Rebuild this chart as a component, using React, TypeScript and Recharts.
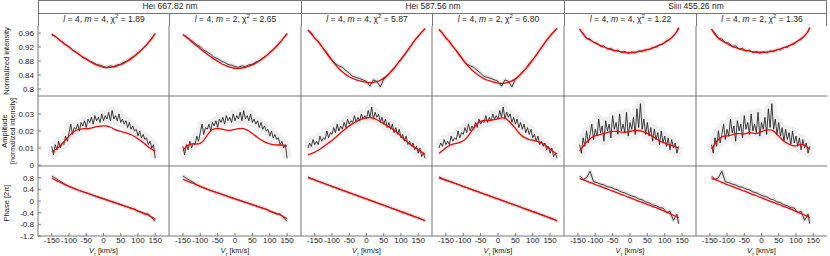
import { Line, LineChart, XAxis, YAxis } from "recharts"

// velocity grids (km/s)
const V_HE667 = [-150, -140, -130, -120, -110, -100, -90, -80, -70, -60, -50, -40, -30, -20, -10, 0, 10, 20, 30, 40, 50, 60, 70, 80, 90, 100, 110, 120, 130, 140, 150]
const V_HE587 = [-170, -160, -150, -140, -130, -120, -110, -100, -90, -80, -70, -60, -50, -40, -30, -20, -10, 0, 10, 20, 30, 40, 50, 60, 70, 80, 90, 100, 110, 120, 130, 140, 150, 160, 170]
const V_SI455 = [-145, -135, -125, -115, -105, -95, -85, -75, -65, -55, -45, -35, -25, -15, -5, 5, 15, 25, 35, 45, 55, 65, 75, 85, 95, 105, 115, 125, 135, 140]

const F_HE667 = [-150, -145, -140, -135, -130, -125, -120, -115, -110, -105, -100, -95, -90, -85, -80, -75, -70, -65, -60, -55, -50, -45, -40, -35, -30, -25, -20, -15, -10, -5, 0, 5, 10, 15, 20, 25, 30, 35, 40, 45, 50, 55, 60, 65, 70, 75, 80, 85, 90, 95, 100, 105, 110, 115, 120, 125, 130, 135, 140, 145, 150]
const F_HE587 = [-170, -165, -160, -155, -150, -145, -140, -135, -130, -125, -120, -115, -110, -105, -100, -95, -90, -85, -80, -75, -70, -65, -60, -55, -50, -45, -40, -35, -30, -25, -20, -15, -10, -5, 0, 5, 10, 15, 20, 25, 30, 35, 40, 45, 50, 55, 60, 65, 70, 75, 80, 85, 90, 95, 100, 105, 110, 115, 120, 125, 130, 135, 140, 145, 150, 155, 160, 165, 170]
const F_SI455 = [-145, -140, -135, -130, -125, -120, -115, -110, -105, -100, -95, -90, -85, -80, -75, -70, -65, -60, -55, -50, -45, -40, -35, -30, -25, -20, -15, -10, -5, 0, 5, 10, 15, 20, 25, 30, 35, 40, 45, 50, 55, 60, 65, 70, 75, 80, 85, 90, 95, 100, 105, 110, 115, 120, 125, 130, 135, 140]

// normalized intensity
const HE667_INT_OBS = [0.954, 0.951, 0.941, 0.935, 0.926, 0.921, 0.911, 0.906, 0.899, 0.89, 0.887, 0.88, 0.876, 0.87, 0.868, 0.864, 0.862, 0.866, 0.864, 0.869, 0.871, 0.877, 0.881, 0.889, 0.895, 0.904, 0.912, 0.921, 0.933, 0.945, 0.959]
const HE667_INT_M4 = [0.957, 0.95, 0.942, 0.934, 0.927, 0.92, 0.912, 0.905, 0.898, 0.891, 0.885, 0.879, 0.873, 0.869, 0.865, 0.862, 0.861, 0.862, 0.863, 0.866, 0.87, 0.874, 0.88, 0.886, 0.894, 0.902, 0.911, 0.921, 0.932, 0.944, 0.958]
const HE667_INT_M2 = [0.956, 0.948, 0.94, 0.931, 0.923, 0.915, 0.907, 0.899, 0.892, 0.885, 0.879, 0.873, 0.868, 0.864, 0.861, 0.859, 0.859, 0.86, 0.862, 0.865, 0.869, 0.874, 0.88, 0.887, 0.895, 0.904, 0.913, 0.923, 0.934, 0.946, 0.958]
const HE587_INT_OBS = [0.968, 0.961, 0.944, 0.937, 0.921, 0.911, 0.897, 0.883, 0.872, 0.866, 0.862, 0.853, 0.845, 0.836, 0.833, 0.83, 0.826, 0.822, 0.808, 0.826, 0.822, 0.806, 0.828, 0.836, 0.848, 0.858, 0.873, 0.884, 0.896, 0.912, 0.925, 0.94, 0.95, 0.963, 0.973]
const HE587_INT_M4 = [0.969, 0.957, 0.946, 0.935, 0.922, 0.908, 0.894, 0.881, 0.869, 0.858, 0.849, 0.841, 0.835, 0.83, 0.826, 0.823, 0.821, 0.819, 0.818, 0.819, 0.821, 0.825, 0.831, 0.839, 0.849, 0.86, 0.872, 0.885, 0.898, 0.911, 0.925, 0.939, 0.951, 0.962, 0.972]
const HE587_INT_M2 = [0.971, 0.959, 0.947, 0.935, 0.922, 0.909, 0.895, 0.882, 0.87, 0.859, 0.85, 0.842, 0.835, 0.829, 0.825, 0.822, 0.819, 0.817, 0.816, 0.817, 0.819, 0.823, 0.829, 0.837, 0.847, 0.858, 0.87, 0.883, 0.897, 0.911, 0.925, 0.939, 0.952, 0.963, 0.973]
const SI455_INT_OBS = [0.97, 0.96, 0.944, 0.943, 0.933, 0.931, 0.922, 0.923, 0.914, 0.916, 0.909, 0.911, 0.904, 0.907, 0.902, 0.906, 0.903, 0.909, 0.907, 0.913, 0.912, 0.919, 0.919, 0.927, 0.928, 0.938, 0.941, 0.953, 0.963, 0.976]
const SI455_INT_M4 = [0.972, 0.957, 0.946, 0.94, 0.934, 0.929, 0.924, 0.92, 0.916, 0.913, 0.91, 0.908, 0.906, 0.905, 0.904, 0.904, 0.905, 0.907, 0.909, 0.911, 0.914, 0.917, 0.921, 0.925, 0.93, 0.936, 0.943, 0.951, 0.965, 0.974]
const SI455_INT_M2 = [0.971, 0.956, 0.945, 0.938, 0.932, 0.927, 0.922, 0.918, 0.915, 0.912, 0.91, 0.908, 0.906, 0.905, 0.905, 0.905, 0.906, 0.907, 0.909, 0.912, 0.915, 0.918, 0.922, 0.926, 0.931, 0.937, 0.944, 0.952, 0.965, 0.975]

// amplitude
const HE667_AMP_OBS = [0.011, 0.006, 0.012, 0.009, 0.014, 0.01, 0.013, 0.012, 0.017, 0.014, 0.019, 0.024, 0.018, 0.022, 0.021, 0.024, 0.02, 0.025, 0.023, 0.026, 0.022, 0.027, 0.025, 0.028, 0.024, 0.029, 0.026, 0.028, 0.025, 0.03, 0.026, 0.029, 0.027, 0.031, 0.026, 0.032, 0.027, 0.029, 0.026, 0.03, 0.025, 0.027, 0.024, 0.026, 0.022, 0.025, 0.021, 0.023, 0.02, 0.021, 0.017, 0.02, 0.016, 0.018, 0.015, 0.016, 0.012, 0.014, 0.01, 0.012, 0.004]
const HE667_AMP_M4 = [0.0078, 0.009, 0.0105, 0.0125, 0.0148, 0.017, 0.019, 0.0203, 0.021, 0.0213, 0.0214, 0.0216, 0.022, 0.0225, 0.0229, 0.023, 0.0228, 0.0222, 0.0212, 0.0203, 0.0198, 0.0192, 0.0186, 0.0178, 0.0168, 0.0155, 0.014, 0.0124, 0.0108, 0.0094, 0.0082]
const HE667_AMP_M2 = [0.0085, 0.011, 0.0122, 0.0125, 0.0124, 0.0128, 0.0145, 0.0175, 0.02, 0.0212, 0.0214, 0.0212, 0.0207, 0.0204, 0.0205, 0.021, 0.0214, 0.0215, 0.021, 0.02, 0.0185, 0.017, 0.0155, 0.0142, 0.0132, 0.0125, 0.012, 0.0118, 0.0118, 0.0117, 0.0112]
const HE587_AMP_OBS = [0.01, 0.013, 0.011, 0.015, 0.012, 0.014, 0.012, 0.017, 0.014, 0.016, 0.015, 0.02, 0.016, 0.019, 0.018, 0.022, 0.019, 0.024, 0.02, 0.023, 0.021, 0.025, 0.022, 0.027, 0.024, 0.026, 0.025, 0.029, 0.025, 0.028, 0.026, 0.03, 0.027, 0.029, 0.027, 0.032, 0.028, 0.034, 0.027, 0.031, 0.028, 0.03, 0.025, 0.028, 0.024, 0.027, 0.022, 0.025, 0.021, 0.024, 0.019, 0.022, 0.018, 0.021, 0.016, 0.018, 0.014, 0.017, 0.012, 0.014, 0.011, 0.013, 0.009, 0.011, 0.007, 0.01, 0.005, 0.007, 0.004]
const HE587_AMP_M4 = [0.0062, 0.0068, 0.0076, 0.0087, 0.01, 0.0115, 0.013, 0.0145, 0.0162, 0.018, 0.0198, 0.0215, 0.023, 0.0243, 0.0254, 0.0264, 0.0272, 0.0277, 0.0278, 0.0274, 0.0266, 0.0255, 0.0243, 0.023, 0.0218, 0.0205, 0.019, 0.017, 0.015, 0.0133, 0.0118, 0.0103, 0.009, 0.0076, 0.0064]
const HE587_AMP_M2 = [0.0068, 0.0085, 0.0102, 0.0115, 0.0123, 0.0128, 0.0133, 0.0143, 0.016, 0.0188, 0.0218, 0.0243, 0.0257, 0.0262, 0.0262, 0.0263, 0.0266, 0.0271, 0.0277, 0.0275, 0.026, 0.0238, 0.0215, 0.019, 0.017, 0.0158, 0.015, 0.0146, 0.0141, 0.0135, 0.0125, 0.011, 0.0095, 0.0078, 0.0066]
const SI455_AMP_OBS = [0.012, 0.007, 0.016, 0.011, 0.02, 0.013, 0.018, 0.024, 0.015, 0.021, 0.017, 0.027, 0.019, 0.023, 0.014, 0.026, 0.02, 0.024, 0.016, 0.029, 0.021, 0.025, 0.018, 0.03, 0.02, 0.024, 0.019, 0.031, 0.017, 0.025, 0.021, 0.028, 0.018, 0.033, 0.022, 0.036, 0.021, 0.027, 0.018, 0.025, 0.017, 0.022, 0.014, 0.021, 0.015, 0.019, 0.012, 0.02, 0.013, 0.017, 0.011, 0.016, 0.009, 0.015, 0.01, 0.013, 0.007, 0.011]
const SI455_AMP_M4 = [0.0085, 0.011, 0.0135, 0.0155, 0.0168, 0.0175, 0.018, 0.0186, 0.0192, 0.0196, 0.0198, 0.0197, 0.0194, 0.0192, 0.0195, 0.02, 0.0203, 0.0203, 0.0198, 0.019, 0.018, 0.0168, 0.0155, 0.0143, 0.0133, 0.0125, 0.0118, 0.0112, 0.0104, 0.01]
const SI455_AMP_M2 = [0.0095, 0.0125, 0.015, 0.0165, 0.017, 0.0172, 0.0178, 0.0185, 0.0185, 0.0183, 0.0185, 0.019, 0.0188, 0.0185, 0.0192, 0.02, 0.0207, 0.0206, 0.0199, 0.018, 0.016, 0.014, 0.0128, 0.0118, 0.0113, 0.0116, 0.0122, 0.0118, 0.01, 0.0092]

// phase [2pi]
const HE667_PH_OBS = [0.86, 0.78, 0.71, 0.64, 0.56, 0.5, 0.45, 0.4, 0.36, 0.32, 0.28, 0.24, 0.2, 0.16, 0.12, 0.08, 0.04, 0, -0.04, -0.08, -0.12, -0.16, -0.2, -0.24, -0.28, -0.36, -0.4, -0.45, -0.44, -0.58, -0.7]
const HE667_PH_M4 = [0.78, 0.72, 0.66, 0.61, 0.55, 0.5, 0.45, 0.41, 0.36, 0.32, 0.28, 0.24, 0.19, 0.15, 0.11, 0.07, 0.03, -0.01, -0.05, -0.09, -0.13, -0.17, -0.21, -0.25, -0.29, -0.34, -0.38, -0.43, -0.49, -0.55, -0.62]
const HE667_PH_M2 = [0.74, 0.7, 0.65, 0.6, 0.55, 0.5, 0.45, 0.41, 0.36, 0.32, 0.28, 0.24, 0.19, 0.15, 0.11, 0.07, 0.03, -0.01, -0.05, -0.09, -0.13, -0.17, -0.21, -0.25, -0.29, -0.34, -0.38, -0.43, -0.48, -0.54, -0.6]
const HE587_PH_OBS = [0.83, 0.77, 0.73, 0.68, 0.64, 0.59, 0.55, 0.5, 0.46, 0.42, 0.37, 0.33, 0.29, 0.24, 0.2, 0.16, 0.11, 0.07, 0.03, -0.01, -0.06, -0.1, -0.14, -0.18, -0.23, -0.27, -0.31, -0.36, -0.39, -0.45, -0.48, -0.54, -0.57, -0.62, -0.68]
const HE587_PH_M4 = [0.8, 0.76, 0.72, 0.67, 0.63, 0.59, 0.54, 0.5, 0.46, 0.41, 0.37, 0.33, 0.28, 0.24, 0.2, 0.15, 0.11, 0.07, 0.02, -0.02, -0.06, -0.11, -0.15, -0.19, -0.24, -0.28, -0.32, -0.37, -0.41, -0.45, -0.5, -0.54, -0.58, -0.63, -0.67]
const HE587_PH_M2 = [0.79, 0.75, 0.71, 0.67, 0.63, 0.59, 0.54, 0.5, 0.46, 0.41, 0.37, 0.33, 0.28, 0.24, 0.2, 0.15, 0.11, 0.07, 0.02, -0.02, -0.06, -0.11, -0.15, -0.19, -0.24, -0.28, -0.32, -0.37, -0.41, -0.45, -0.5, -0.54, -0.59, -0.63, -0.68]
const SI455_PH_OBS = [0.86, 0.74, 0.8, 1.02, 0.66, 0.63, 0.58, 0.55, 0.49, 0.47, 0.41, 0.38, 0.31, 0.28, 0.22, 0.17, 0.14, 0.07, 0.04, -0.03, -0.06, -0.13, -0.16, -0.23, -0.24, -0.4, -0.35, -0.66, -0.45, -0.78]
const SI455_PH_M4 = [0.77, 0.73, 0.68, 0.63, 0.59, 0.54, 0.5, 0.45, 0.41, 0.36, 0.32, 0.27, 0.22, 0.18, 0.13, 0.09, 0.04, -0.01, -0.05, -0.1, -0.14, -0.19, -0.23, -0.28, -0.33, -0.38, -0.43, -0.49, -0.55, -0.58]
const SI455_PH_M2 = [0.78, 0.74, 0.69, 0.64, 0.59, 0.54, 0.5, 0.45, 0.41, 0.36, 0.32, 0.27, 0.22, 0.18, 0.13, 0.09, 0.04, -0.01, -0.05, -0.1, -0.14, -0.19, -0.23, -0.28, -0.33, -0.38, -0.43, -0.48, -0.54, -0.57]

const X_TICKS = [-150, -100, -50, 0, 50, 100, 150]
const INT_TICKS = [0.8, 0.84, 0.88, 0.92, 0.96]
const AMP_TICKS = [0, 0.01, 0.02, 0.03]
const PH_TICKS = [-1.2, -0.8, -0.4, 0, 0.4, 0.8]

const CHI2 = ["1.89", "2.65", "5.87", "6.80", "1.22", "1.36"]
const M_VALUES = [4, 2, 4, 2, 4, 2]

const FONT = '"Liberation Sans", Arial, Helvetica, sans-serif'
const PLOT_X0 = 37.5
const COL_W = 131.6
const ROW_H = 70
const Y_AXIS_W = 37
const X_AXIS_H = 20
const FRAME = "#777"

type Pt = { v: number; y: number }
const zip = (xs: number[], ys: number[]): Pt[] => xs.map((v, i) => ({ v, y: ys[i] }))

const LINES = [
  {
    rows: [
      { v: V_HE667, obs: HE667_INT_OBS, m4: HE667_INT_M4, m2: HE667_INT_M2 },
      { v: F_HE667, fv: V_HE667, obs: HE667_AMP_OBS, m4: HE667_AMP_M4, m2: HE667_AMP_M2 },
      { v: V_HE667, obs: HE667_PH_OBS, m4: HE667_PH_M4, m2: HE667_PH_M2 },
    ],
  },
  {
    rows: [
      { v: V_HE587, obs: HE587_INT_OBS, m4: HE587_INT_M4, m2: HE587_INT_M2 },
      { v: F_HE587, fv: V_HE587, obs: HE587_AMP_OBS, m4: HE587_AMP_M4, m2: HE587_AMP_M2 },
      { v: V_HE587, obs: HE587_PH_OBS, m4: HE587_PH_M4, m2: HE587_PH_M2 },
    ],
  },
  {
    rows: [
      { v: V_SI455, obs: SI455_INT_OBS, m4: SI455_INT_M4, m2: SI455_INT_M2 },
      { v: F_SI455, fv: V_SI455, obs: SI455_AMP_OBS, m4: SI455_AMP_M4, m2: SI455_AMP_M2 },
      { v: V_SI455, obs: SI455_PH_OBS, m4: SI455_PH_M4, m2: SI455_PH_M2 },
    ],
  },
]

const ROWS = [
  { top: 26, domain: [0.78, 0.98], ticks: INT_TICKS, halo: 4, haloColor: "#e2e2e2" },
  { top: 96, domain: [-0.0005, 0.0405], ticks: AMP_TICKS, halo: 9, haloColor: "#efefef" },
  { top: 166, domain: [-1.2, 1.2], ticks: PH_TICKS, halo: 4, haloColor: "#e2e2e2" },
]

const colLeft = (c: number) => Math.round(PLOT_X0 + c * COL_W)

const tickStyle = { fontSize: 8, fill: "#222", fontFamily: FONT }

function Panel({ col, row }: { col: number; row: number }) {
  const left = colLeft(col)
  const w = colLeft(col + 1) - left
  const r = ROWS[row]
  const d = LINES[Math.floor(col / 2)].rows[row]
  const fit = M_VALUES[col] === 4 ? d.m4 : d.m2
  const obs = zip(d.v, d.obs)
  const fitPts = zip(d.fv ?? d.v, fit)
  const showY = col === 0
  const showX = row === 2

  return (
    <div style={{ position: "absolute", left: left - Y_AXIS_W, top: r.top }}>
      <LineChart width={w + Y_AXIS_W} height={ROW_H + X_AXIS_H} margin={{ top: 0, right: 0, bottom: 0, left: 0 }}>
        <XAxis
          xAxisId="b"
          type="number"
          dataKey="v"
          domain={[-190, 190]}
          ticks={X_TICKS}
          allowDataOverflow
          orientation="bottom"
          height={X_AXIS_H}
          tickSize={-3}
          tickMargin={4}
          tick={showX ? tickStyle : false}
          stroke={FRAME}
          interval={0}
        />
        <XAxis
          xAxisId="t"
          type="number"
          dataKey="v"
          domain={[-190, 190]}
          ticks={X_TICKS}
          allowDataOverflow
          orientation="top"
          height={0}
          tickSize={-3}
          tick={false}
          stroke={FRAME}
        />
        <YAxis
          yAxisId="l"
          type="number"
          dataKey="y"
          domain={r.domain}
          ticks={r.ticks}
          allowDataOverflow
          width={Y_AXIS_W}
          tickSize={-3}
          tickMargin={7}
          tick={showY ? tickStyle : false}
          stroke={FRAME}
          interval={0}
        />
        <YAxis
          yAxisId="r"
          type="number"
          dataKey="y"
          orientation="right"
          domain={r.domain}
          ticks={r.ticks}
          allowDataOverflow
          width={0}
          tickSize={-3}
          tick={false}
          stroke={FRAME}
        />
        <Line
          xAxisId="b"
          yAxisId="l"
          data={obs}
          dataKey="y"
          type="linear"
          stroke={r.haloColor}
          strokeWidth={r.halo}
          strokeLinejoin="round"
          dot={false}
          isAnimationActive={false}
        />
        <Line
          xAxisId="b"
          yAxisId="l"
          data={obs}
          dataKey="y"
          type="linear"
          stroke="#111"
          strokeWidth={0.8}
          dot={false}
          isAnimationActive={false}
        />
        <Line
          xAxisId="b"
          yAxisId="l"
          data={fitPts}
          dataKey="y"
          type="monotone"
          stroke="#ff0000"
          strokeWidth={1.3}
          dot={false}
          isAnimationActive={false}
        />
      </LineChart>
    </div>
  )
}

const GROUPS = [
  { name: "He", ion: "I", wl: "667.82 nm" },
  { name: "He", ion: "I", wl: "587.56 nm" },
  { name: "Si", ion: "III", wl: "455.26 nm" },
]

const cellStyle = {
  position: "absolute" as const,
  height: 13,
  lineHeight: "13px",
  textAlign: "center" as const,
  fontSize: 8.5,
  color: "#222",
  boxSizing: "border-box" as const,
  borderLeft: `1px solid ${FRAME}`,
}

const yTitle = (left: number, top: number, size: number) => ({
  position: "absolute" as const,
  left,
  top,
  fontSize: size,
  lineHeight: `${size + 1}px`,
  color: "#222",
  whiteSpace: "nowrap" as const,
  transform: "translate(-50%, -50%) rotate(-90deg)",
})

export default function App() {
  const cols = [0, 1, 2, 3, 4, 5]
  return (
    <div style={{ position: "absolute", left: 0, top: 0, width: 830, height: 256, background: "#fff", fontFamily: FONT, overflow: "hidden" }}>
      {/* header */}
      <div style={{ position: "absolute", left: colLeft(0), top: 0, width: colLeft(6) - colLeft(0), height: 26, borderTop: `1px solid ${FRAME}`, borderRight: `1px solid ${FRAME}`, boxSizing: "border-box" }} />
      <div style={{ position: "absolute", left: colLeft(0), top: 13, width: colLeft(6) - colLeft(0), height: 0, borderTop: `1px solid ${FRAME}` }} />
      {GROUPS.map((g, i) => (
        <div key={g.wl} style={{ ...cellStyle, left: colLeft(i * 2), top: 0, width: colLeft(i * 2 + 2) - colLeft(i * 2) }}>
          {g.name}
          <span style={{ fontSize: 6.5 }}>{g.ion}</span> {g.wl}
        </div>
      ))}
      {cols.map((c) => (
        <div key={c} style={{ ...cellStyle, left: colLeft(c), top: 13, width: colLeft(c + 1) - colLeft(c) }}>
          <i>l</i> = 4, <i>m</i> = {M_VALUES[c]}, χ<sup style={{ fontSize: 6, lineHeight: 0 }}>2</sup> = {CHI2[c]}
        </div>
      ))}

      {/* panels */}
      {[0, 1, 2].map((row) => cols.map((col) => <Panel key={`${row}-${col}`} col={col} row={row} />))}

      {/* y titles */}
      <div style={yTitle(7, 61, 7.5)}>Normalized intensity</div>
      <div style={yTitle(5, 131, 7.5)}>Amplitude</div>
      <div style={yTitle(12.5, 131, 7)}>[normalized intensity]</div>
      <div style={yTitle(7, 203, 7.5)}>Phase [2π]</div>

      {/* x titles */}
      {cols.map((c) => {
        const w = colLeft(c + 1) - colLeft(c)
        return (
          <div key={c} style={{ position: "absolute", left: colLeft(c) + w / 2, top: 251, fontSize: 7.5, lineHeight: "8px", color: "#222", whiteSpace: "nowrap", transform: "translate(-50%, -50%)" }}>
            <i>V</i>
            <sub style={{ fontSize: 5, lineHeight: 0 }}>r</sub> [km/s]
          </div>
        )
      })}
    </div>
  )
}
